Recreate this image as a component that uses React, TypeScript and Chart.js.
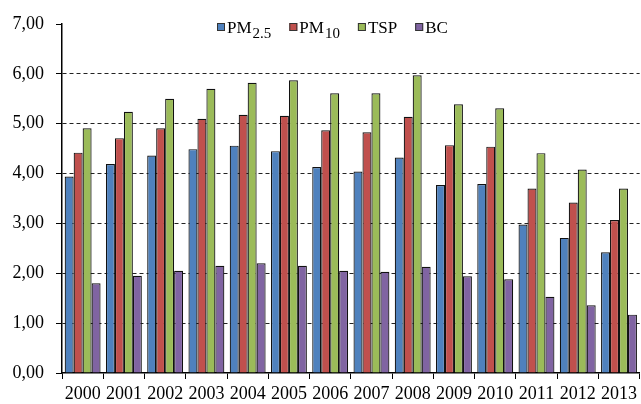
import React, { useEffect, useRef } from "react";
import { Chart, registerables } from "chart.js";

Chart.register(...registerables);

const years = ["2000","2001","2002","2003","2004","2005","2006","2007","2008","2009","2010","2011","2012","2013"];
const pm25 = [3.94, 4.19, 4.36, 4.49, 4.56, 4.45, 4.13, 4.04, 4.32, 3.77, 3.79, 2.98, 2.71, 2.42];
const pm10 = [4.42, 4.71, 4.91, 5.10, 5.18, 5.16, 4.87, 4.83, 5.14, 4.57, 4.54, 3.70, 3.42, 3.07];
const tsp = [4.91, 5.24, 5.50, 5.70, 5.82, 5.87, 5.61, 5.61, 5.97, 5.39, 5.31, 4.41, 4.08, 3.70];
const bc = [1.80, 1.95, 2.05, 2.15, 2.20, 2.15, 2.05, 2.03, 2.13, 1.94, 1.88, 1.53, 1.36, 1.17];

const legendItems = [
  { main: "PM", sub: "2.5", color: "#4F81BD" },
  { main: "PM", sub: "10", color: "#C0504D" },
  { main: "TSP", sub: "", color: "#9BBB59" },
  { main: "BC", sub: "", color: "#8064A2" },
];

const SERIF = "'Liberation Serif', 'Times New Roman', serif";

const legendPlugin = {
  id: "subLegend",
  afterDraw(chart: any) {
    const ctx = chart.ctx;
    ctx.save();
    let x = 217;
    const yBase = 33;
    for (const it of legendItems) {
      ctx.fillStyle = it.color;
      ctx.fillRect(x, 23, 8, 8);
      ctx.strokeStyle = "#333";
      ctx.lineWidth = 1;
      ctx.strokeRect(x + 0.5, 23.5, 7, 7);
      x += 10;
      ctx.fillStyle = "#000";
      ctx.textBaseline = "alphabetic";
      ctx.textAlign = "left";
      ctx.font = `17px ${SERIF}`;
      ctx.fillText(it.main, x, yBase);
      x += ctx.measureText(it.main).width;
      if (it.sub) {
        ctx.font = `15px ${SERIF}`;
        ctx.fillText(it.sub, x + 1, yBase + 5);
        x += ctx.measureText(it.sub).width + 1;
      }
      x += 18;
    }
    ctx.restore();
  },
};

export default function App() {
  const ref = useRef<HTMLCanvasElement>(null);
  useEffect(() => {
    if (!ref.current) return;
    const mk = (label: string, data: number[], color: string) => ({
      label,
      data,
      backgroundColor: color,
      borderColor: "#111",
      borderWidth: 1.2,
      barPercentage: 1,
      categoryPercentage: 0.87,
    });
    const chart = new Chart(ref.current, {
      type: "bar",
      data: {
        labels: years,
        datasets: [
          mk("PM2.5", pm25, legendItems[0].color),
          mk("PM10", pm10, legendItems[1].color),
          mk("TSP", tsp, legendItems[2].color),
          mk("BC", bc, legendItems[3].color),
        ],
      },
      options: {
        animation: false,
        responsive: false,
        layout: { padding: { top: 24, left: 0, right: 0, bottom: 0 } },
        plugins: { legend: { display: false }, tooltip: { enabled: false } },
        scales: {
          x: {
            offset: true,
            grid: {
              display: true,
              offset: true,
              drawOnChartArea: false,
              drawTicks: true,
              tickLength: 6,
              color: "#000",
              tickColor: "#000",
            },
            border: { display: true, color: "#000", width: 1.5 },
            ticks: {
              color: "#000",
              font: { family: SERIF, size: 18 },
              padding: 4,
              maxRotation: 0,
              autoSkip: false,
            },
            afterFit(scale: any) {
              scale.height = 31;
            },
          },
          y: {
            min: 0,
            max: 7,
            ticks: {
              stepSize: 1,
              color: "#000",
              font: { family: SERIF, size: 18 },
              padding: 12,
              callback: (v: any) => Number(v).toFixed(2).replace(".", ","),
            },
            grid: {
              drawTicks: true,
              tickLength: 6,
              color: (c: any) =>
                c.tick && (c.tick.value === 0 || c.tick.value === 7) ? "rgba(0,0,0,0)" : "#222",
              tickColor: "#000",
              tickBorderDash: [],
              lineWidth: 1,
            },
            border: { display: true, color: "#000", width: 1.5, dash: [4, 3] },
            afterFit(scale: any) {
              scale.width = 62;
            },
          },
        },
      },
      plugins: [legendPlugin],
    } as any);
    return () => chart.destroy();
  }, []);
  return (
    <div style={{ position: "fixed", left: 0, top: 0, width: 641, height: 404, background: "#fff" }}>
      <canvas ref={ref} width={641} height={404} />
    </div>
  );
}
